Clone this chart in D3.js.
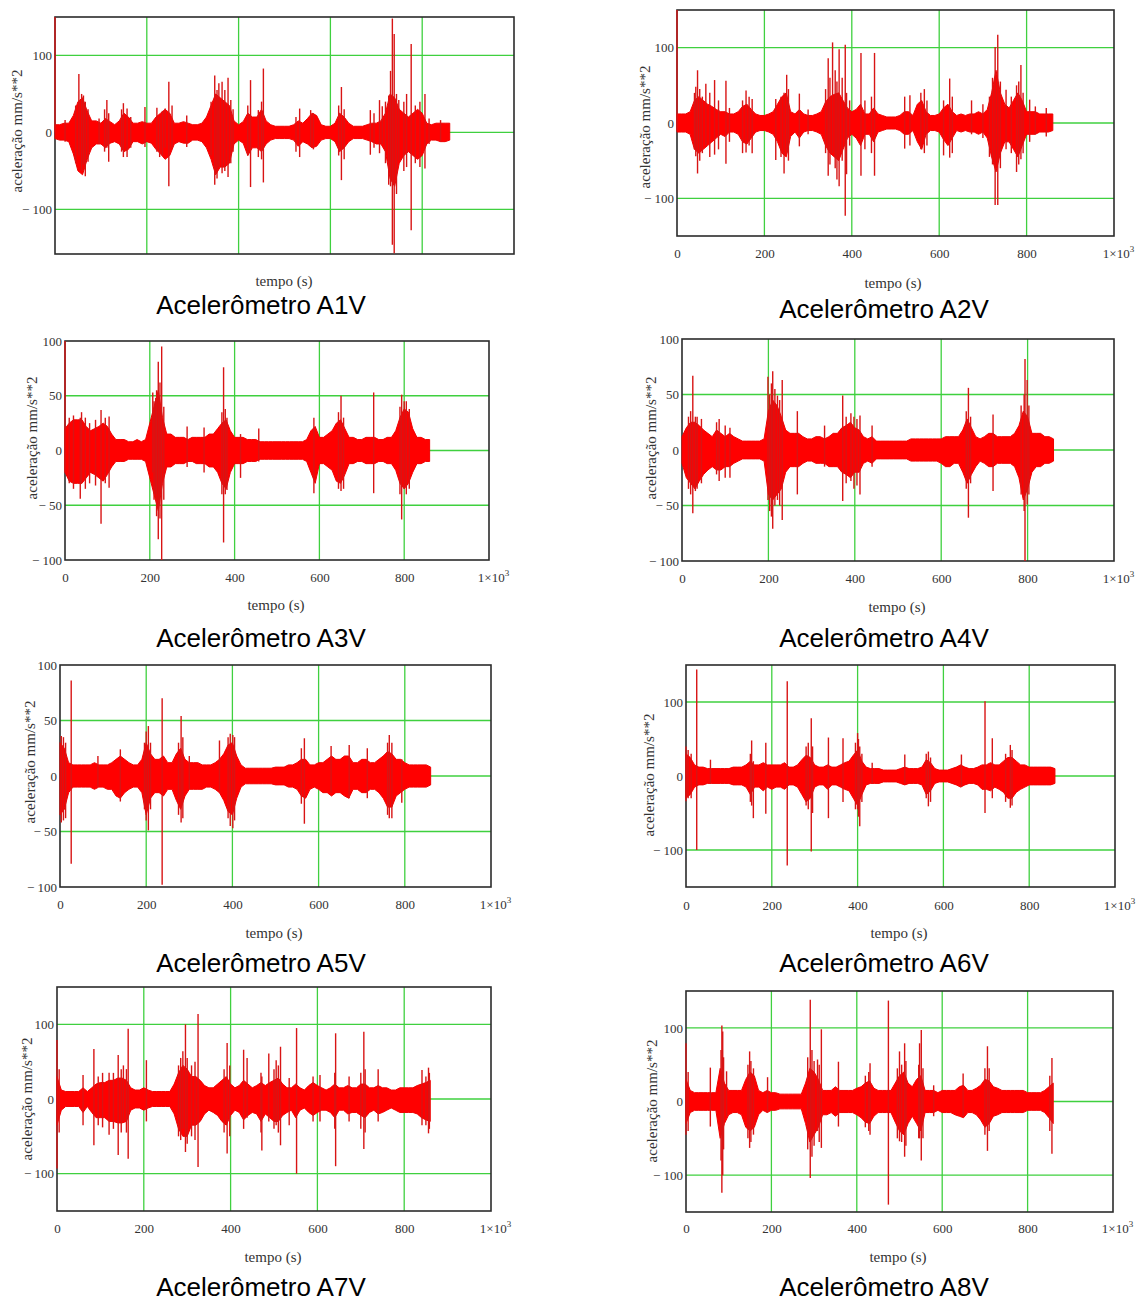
<!DOCTYPE html>
<html>
<head>
<meta charset="utf-8">
<script src="https://cdn.jsdelivr.net/npm/d3@7"></script>
<style>
  body { margin: 0; background: #fff; }
  .tick text { font-family: "Liberation Serif", "Times New Roman", serif; font-size: 13px; fill: #333; }
</style>
</head>
<body>
<script>
// sample times of the envelopes (s)
var tempo = d3.range(0, 870, 10);

// envelope of the dense signal, upper / lower (mm/s**2), read every 10 s
var a1Sup = [10,10,12,12,22,40,45,28,15,15, 12,18,14,10,15,25,20,12,12,14, 12,12,20,25,30,25,12,12,14,12, 10,10,12,20,35,50,45,40,35,15, 10,14,25,20,20,30,15,10,8,8, 8,8,10,15,12,18,25,22,10,8, 8,12,25,20,12,8,8,8,10,12, 12,15,25,50,45,30,25,20,25,30, 25,12,10,12,12,12,12];
var a1Inf = [-8,-10,-10,-12,-28,-50,-55,-35,-20,-15, -15,-20,-14,-12,-15,-25,-22,-12,-12,-15, -12,-14,-22,-28,-35,-30,-15,-12,-14,-14, -10,-10,-12,-20,-35,-55,-45,-45,-40,-15, -10,-14,-30,-20,-20,-25,-15,-10,-8,-8, -8,-8,-10,-18,-12,-15,-20,-18,-10,-8, -8,-12,-25,-20,-12,-8,-8,-8,-10,-12, -15,-15,-25,-60,-70,-40,-30,-25,-30,-35, -30,-15,-10,-10,-12,-12,-10];
// isolated peaks [t, max, min]
var a1Picos = [[0,150,0],[52,76,-30],[66,40,-57],[113,42,-20],[117,25,-38],[149,38,-32],[157,31,-32],[196,33,-19],[240,31,-20],[248,66,-70],[287,22,-19],[348,74,-68],[357,64,-45],[364,66,-53],[377,71,-58],[383,42,-40],[426,68,-71],[443,29,-32],[454,83,-65],[533,31,-32],[557,29,-19],[624,59,-62],[687,29,-29],[707,42,-27],[713,34,-15],[727,48,-68],[735,148,-146],[739,128,-157],[749,42,-36],[766,50,-45],[776,115,-127],[806,50,-47],
  [22,16,-12],[45,35,-40],[58,50,-50],[62,48,-42],[72,30,-38],[96,18,-15],[108,30,-25],[145,30,-25],[165,20,-20],[222,32,-25],[228,20,-32],[234,28,-30],[255,35,-20],[340,40,-30],[353,55,-60],[370,55,-50],[388,30,-25],[420,35,-30],[450,40,-35],[525,20,-25],[563,25,-22],[618,35,-30],[630,30,-35],[695,25,-20],[720,40,-40],[731,80,-70],[744,50,-80],[760,40,-50],[785,35,-40],[795,40,-45],[815,18,-15],[840,16,-12]];

var a2Sup = [12,12,12,15,30,35,30,25,22,18, 15,15,12,12,15,22,25,18,12,10, 10,12,15,25,35,40,15,12,18,12, 10,10,12,15,28,35,38,40,30,20, 15,18,25,12,12,20,12,10,8,8, 8,10,15,15,10,25,30,15,10,10, 12,20,25,15,10,12,10,12,12,15, 12,18,40,70,40,25,20,30,40,30, 15,15,15,12,12,12,12];
var a2Inf = [-12,-12,-12,-15,-35,-40,-35,-30,-25,-20, -15,-18,-12,-12,-15,-25,-28,-20,-12,-10, -10,-12,-15,-25,-40,-45,-18,-12,-20,-12, -10,-10,-12,-15,-30,-40,-45,-50,-35,-20, -15,-20,-30,-15,-15,-25,-12,-10,-8,-8, -8,-10,-15,-15,-10,-25,-35,-15,-10,-10, -12,-22,-30,-20,-10,-12,-10,-12,-12,-15, -12,-20,-45,-65,-40,-25,-25,-35,-45,-30, -15,-15,-15,-12,-12,-12,-10];
var a2Picos = [[0,150,-10],[43,48,-44],[47,70,-67],[66,52,-30],[86,57,-42],[112,56,-54],[158,43,-39],[172,32,-40],[226,32,-49],[245,40,-67],[251,64,-40],[280,39,-31],[346,86,-70],[356,107,-40],[371,98,-84],[385,104,-123],[388,40,-68],[421,93,-70],[452,93,-70],[521,35,-34],[533,37,-30],[566,45,-40],[610,30,-43],[624,59,-46],[674,30,-15],[728,101,-109],[734,117,-109],[753,44,-35],[777,50,-65],[787,77,-48],[807,31,-25],[820,22,-15],
  [40,40,-35],[52,45,-50],[58,35,-40],[75,40,-45],[95,30,-35],[120,20,-25],[150,30,-40],[165,35,-30],[238,35,-45],[255,45,-50],[300,18,-15],[340,45,-40],[350,60,-55],[362,70,-60],[366,55,-75],[378,60,-50],[395,30,-30],[430,30,-35],[445,35,-40],[558,40,-35],[572,30,-30],[630,35,-40],[700,25,-20],[715,35,-45],[722,60,-55],[740,55,-60],[765,35,-40],[782,55,-55],[792,40,-40],[845,20,-18]];

var a3Sup = [20,25,28,28,28,22,18,20,22,25, 22,15,10,10,10,8,8,10,8,10, 25,40,55,30,15,15,12,12,12,10, 12,12,12,12,15,15,20,25,28,18, 12,12,12,10,10,10,8,8,8,8, 8,8,8,8,8,8,8,10,18,22, 12,12,15,18,25,28,20,12,12,10, 10,12,12,12,10,10,12,12,18,30, 38,35,20,12,12,10,10];
var a3Inf = [-20,-28,-30,-30,-30,-25,-20,-22,-25,-28, -22,-15,-10,-10,-10,-8,-8,-8,-8,-10, -25,-40,-55,-30,-15,-15,-12,-12,-12,-10, -10,-12,-12,-12,-15,-15,-20,-30,-35,-20, -12,-12,-12,-10,-10,-10,-8,-8,-8,-8, -8,-8,-8,-8,-8,-8,-8,-10,-20,-30, -12,-12,-15,-18,-28,-30,-22,-12,-12,-10, -10,-12,-12,-12,-10,-10,-12,-12,-18,-30, -35,-30,-20,-12,-12,-10,-10];
var a3Picos = [[0,100,-20],[36,30,-44],[39,35,-30],[85,37,-67],[104,31,-34],[207,53,-20],[214,48,-40],[220,81,-81],[228,95,-100],[288,22,-15],[328,21,-20],[374,76,-84],[382,30,-36],[414,15,-25],[457,20,-10],[587,30,-39],[651,50,-37],[728,53,-39],[794,51,-63],[800,45,-35],
  [10,30,-30],[20,32,-35],[48,30,-35],[58,25,-30],[72,28,-32],[95,30,-30],[210,45,-45],[216,55,-60],[224,62,-62],[233,40,-45],[370,35,-40],[378,38,-40],[645,35,-35],[657,30,-35],[790,40,-40],[805,45,-40],[812,38,-35]];

var a4Sup = [12,20,25,25,22,18,15,12,18,15, 12,15,12,10,8,8,8,8,8,10, 35,45,40,30,18,15,15,15,12,10, 10,12,12,10,12,15,15,20,22,25, 20,18,12,10,12,8,8,8,8,8, 8,8,8,10,10,10,10,10,10,10, 10,12,12,12,12,18,28,20,12,10, 12,15,15,12,12,12,12,15,22,35, 30,15,15,15,12,12,10];
var a4Inf = [-12,-25,-30,-35,-28,-22,-18,-15,-18,-18, -15,-15,-12,-10,-8,-8,-8,-8,-8,-10, -40,-45,-40,-35,-20,-15,-15,-15,-12,-10, -10,-12,-12,-12,-15,-15,-15,-20,-22,-25, -20,-20,-12,-10,-12,-8,-8,-8,-8,-8, -8,-8,-8,-10,-10,-10,-10,-10,-10,-10, -12,-15,-15,-12,-12,-20,-30,-22,-15,-10, -12,-15,-15,-12,-12,-12,-12,-15,-25,-45, -35,-20,-15,-15,-12,-12,-10];
var a4Picos = [[25,67,-57],[31,30,-37],[86,28,-28],[111,20,-25],[199,66,-45],[210,71,-71],[221,49,-45],[232,63,-63],[267,35,-40],[330,22,-15],[372,49,-46],[391,33,-28],[412,31,-40],[440,22,-15],[663,56,-61],[720,32,-37],[792,50,-55],[794,82,-100],[799,63,-49],
  [15,30,-35],[20,35,-40],[35,30,-35],[45,28,-30],[80,25,-22],[100,22,-25],[203,50,-55],[207,60,-60],[215,55,-50],[226,45,-50],[380,30,-30],[398,30,-35],[405,28,-32],[658,35,-35],[668,30,-30],[785,40,-40],[803,40,-40]];

var a5Sup = [30,25,12,10,10,10,10,10,12,10, 10,10,12,15,18,15,12,10,10,15, 30,20,15,15,18,12,12,20,25,15, 12,12,12,10,10,10,12,15,20,28, 30,18,10,7,7,7,7,7,7,7, 8,8,8,10,10,12,15,15,10,10, 12,12,15,18,15,15,18,18,12,12, 15,15,12,12,15,18,22,20,15,15, 12,10,10,10,10,10,8];
var a5Inf = [-35,-30,-15,-10,-10,-10,-10,-10,-12,-10, -10,-12,-12,-18,-20,-15,-12,-10,-10,-15, -35,-20,-15,-15,-18,-12,-12,-22,-30,-18, -12,-12,-12,-12,-10,-10,-12,-15,-22,-32, -35,-20,-10,-7,-7,-7,-7,-7,-7,-7, -8,-8,-8,-10,-10,-12,-18,-20,-12,-10, -12,-15,-15,-18,-15,-15,-18,-20,-12,-12, -15,-15,-12,-12,-15,-20,-28,-28,-18,-15, -12,-10,-10,-10,-10,-10,-8];
var a5Picos = [[3,36,-42],[26,86,-79],[88,18,-10],[140,24,-23],[205,45,-49],[237,70,-98],[281,54,-42],[300,18,-12],[370,32,-15],[401,37,-47],[567,34,-43],[629,27,-15],[671,28,-20],[713,25,-20],[764,37,-38],[793,15,-24],
  [8,35,-40],[13,30,-38],[196,30,-30],[200,40,-40],[210,30,-30],[275,30,-35],[285,35,-38],[390,35,-38],[395,38,-45],[405,35,-40],[560,25,-25],[760,30,-35],[770,30,-38]];

var a6Sup = [30,25,15,12,12,10,10,10,10,10, 10,12,12,12,15,20,15,15,18,15, 15,15,15,18,12,12,15,22,28,25, 15,12,12,15,12,12,15,18,20,28, 35,20,12,10,10,10,8,8,8,8, 10,12,10,10,10,12,22,18,10,8, 8,8,10,12,15,12,10,10,12,15, 15,18,15,15,20,25,25,20,15,15, 12,12,12,12,12,12,10];
var a6Inf = [-30,-25,-15,-12,-12,-10,-10,-10,-10,-10, -10,-12,-12,-12,-15,-25,-15,-15,-20,-15, -18,-15,-15,-18,-12,-12,-15,-25,-35,-30, -15,-12,-12,-18,-12,-12,-15,-18,-20,-30, -40,-25,-12,-10,-10,-10,-8,-8,-8,-8, -10,-12,-10,-10,-10,-12,-25,-20,-10,-8, -8,-8,-10,-12,-15,-12,-10,-10,-12,-18, -18,-20,-15,-18,-22,-30,-30,-22,-18,-15, -12,-12,-12,-12,-12,-12,-10];
var a6Picos = [[0,40,-34],[25,144,-100],[57,22,-10],[153,48,-40],[157,20,-57],[186,45,-51],[236,128,-121],[292,78,-102],[332,52,-57],[366,51,-35],[400,58,-45],[405,40,-68],[434,18,-10],[510,29,-10],[565,33,-41],[642,29,-15],[697,101,-50],[714,51,-30],[756,42,-43],
  [5,35,-30],[12,30,-30],[150,30,-35],[280,40,-40],[285,45,-45],[295,40,-50],[395,45,-45],[402,50,-55],[410,30,-35],[560,30,-30],[570,25,-35],[745,30,-35],[760,35,-40]];

var a7Sup = [30,12,10,10,10,10,15,10,15,20, 22,22,25,25,28,28,25,15,12,12, 15,12,10,10,10,10,10,20,35,45, 40,30,30,25,18,15,15,20,25,30, 20,15,18,25,20,15,18,22,18,22, 25,28,20,15,15,20,15,12,18,22, 18,15,12,15,20,15,15,18,15,15, 20,20,15,15,18,15,15,12,12,15, 15,15,15,18,20,22,25];
var a7Inf = [-35,-15,-10,-10,-10,-10,-18,-10,-18,-25, -25,-25,-30,-30,-32,-32,-30,-15,-12,-12, -15,-12,-10,-10,-10,-10,-10,-20,-40,-50, -50,-35,-35,-30,-20,-15,-18,-22,-30,-35, -22,-15,-18,-28,-22,-18,-20,-30,-20,-25, -30,-30,-22,-18,-15,-25,-15,-12,-18,-22, -18,-15,-15,-18,-25,-15,-15,-20,-18,-18, -22,-25,-18,-15,-20,-18,-15,-12,-15,-18, -18,-18,-18,-20,-25,-28,-30];
var a7Picos = [[0,79,-93],[60,32,-35],[85,67,-62],[120,35,-48],[141,59,-75],[153,45,-30],[164,94,-80],[206,52,-30],[290,64,-40],[296,100,-71],[325,114,-91],[392,75,-73],[430,66,-40],[438,55,-25],[472,30,-69],[488,61,-30],[505,52,-35],[515,70,-62],[535,28,-35],[552,95,-100],[606,32,-30],[642,88,-90],[673,30,-30],[707,90,-67],[740,40,-30],[841,39,-35],[856,42,-46],
  [5,40,-45],[95,30,-35],[105,35,-38],[130,35,-40],[148,40,-45],[160,40,-45],[280,45,-50],[285,55,-55],[300,55,-60],[310,45,-50],[318,50,-55],[385,40,-45],[398,45,-50],[470,35,-45],[500,40,-40],[510,45,-45],[590,30,-30],[640,35,-40],[700,35,-40],[710,40,-45],[850,30,-35],[858,35,-40]];

var a8Sup = [30,15,12,12,12,12,12,12,45,25, 15,15,15,15,30,40,35,15,12,15, 12,12,10,10,10,10,10,10,25,45, 40,30,15,15,15,20,15,15,15,15, 18,20,25,28,18,15,15,15,15,25, 35,40,25,20,30,35,15,15,15,12, 15,15,15,15,20,22,15,15,18,22, 30,28,20,18,15,15,15,15,15,15, 12,12,12,12,15,20,25];
var a8Inf = [-30,-15,-12,-12,-12,-12,-12,-12,-50,-30, -18,-15,-15,-18,-35,-40,-35,-18,-12,-15, -12,-12,-10,-10,-10,-10,-10,-10,-30,-55, -45,-35,-18,-18,-15,-20,-15,-15,-15,-15, -18,-22,-28,-30,-20,-15,-15,-15,-15,-28, -40,-45,-30,-20,-30,-40,-15,-15,-15,-12, -15,-15,-15,-18,-20,-22,-15,-15,-18,-25, -35,-30,-20,-18,-15,-15,-15,-15,-15,-15, -12,-12,-12,-12,-15,-22,-30];
var a8Picos = [[0,79,-45],[57,46,-34],[84,103,-124],[86,95,-100],[95,41,-20],[149,68,-63],[191,33,-15],[291,138,-104],[308,57,-40],[317,98,-63],[357,54,-34],[431,52,-45],[474,137,-140],[500,68,-54],[512,79,-75],[547,79,-50],[551,97,-80],[580,22,-20],[649,38,-20],[706,75,-67],[857,59,-71],
  [5,40,-40],[82,70,-80],[88,60,-65],[145,50,-50],[152,55,-55],[158,45,-45],[285,60,-65],[295,70,-75],[300,55,-60],[312,50,-55],[420,35,-35],[428,40,-40],[495,45,-50],[505,50,-55],[515,55,-60],[545,50,-50],[555,45,-50],[700,45,-45],[710,45,-40],[852,35,-40]];

var xTicks = [0, 200, 400, 600, 800, 1000];
var yTicks150 = [-100, 0, 100];
var yTicks100 = [-100, -50, 0, 50, 100];

// panel layout
var paineis = [
  {nome: "A1V", sup: a1Sup, inf: a1Inf, picos: a1Picos, yDom: [-158, 150], yTicks: yTicks150, l: 55, r: 514, t: 17, b: 254, xTickY: null, yLabX: 17, yLabY: 131, tempoX: 284, tempoY: 286, titX: 261, titY: 314},
  {nome: "A2V", sup: a2Sup, inf: a2Inf, picos: a2Picos, yDom: [-150, 150], yTicks: yTicks150, l: 677, r: 1114, t: 10, b: 236, xTickY: 258, yLabX: 645, yLabY: 127, tempoX: 893, tempoY: 288, titX: 884, titY: 318},
  {nome: "A3V", sup: a3Sup, inf: a3Inf, picos: a3Picos, yDom: [-100, 100], yTicks: yTicks100, l: 65, r: 489, t: 341, b: 560, xTickY: 582, yLabX: 32, yLabY: 438, tempoX: 276, tempoY: 610, titX: 261, titY: 647},
  {nome: "A4V", sup: a4Sup, inf: a4Inf, picos: a4Picos, yDom: [-100, 100], yTicks: yTicks100, l: 682, r: 1114, t: 339, b: 561, xTickY: 583, yLabX: 651, yLabY: 438, tempoX: 897, tempoY: 612, titX: 884, titY: 647},
  {nome: "A5V", sup: a5Sup, inf: a5Inf, picos: a5Picos, yDom: [-100, 100], yTicks: yTicks100, l: 60, r: 491, t: 665, b: 887, xTickY: 909, yLabX: 30, yLabY: 762, tempoX: 274, tempoY: 938, titX: 261, titY: 972},
  {nome: "A6V", sup: a6Sup, inf: a6Inf, picos: a6Picos, yDom: [-150, 150], yTicks: yTicks150, l: 686, r: 1115, t: 665, b: 887, xTickY: 910, yLabX: 649, yLabY: 775, tempoX: 899, tempoY: 938, titX: 884, titY: 972},
  {nome: "A7V", sup: a7Sup, inf: a7Inf, picos: a7Picos, yDom: [-150, 150], yTicks: yTicks150, l: 57, r: 491, t: 987, b: 1211, xTickY: 1233, yLabX: 27, yLabY: 1099, tempoX: 273, tempoY: 1262, titX: 261, titY: 1296},
  {nome: "A8V", sup: a8Sup, inf: a8Inf, picos: a8Picos, yDom: [-150, 150], yTicks: yTicks150, l: 686, r: 1113, t: 991, b: 1212, xTickY: 1233, yLabX: 652, yLabY: 1101, tempoX: 898, tempoY: 1262, titX: 884, titY: 1296}
];

var svg = d3.select("body").append("svg")
  .attr("width", 1140)
  .attr("height", 1302)
  .style("display", "block");

svg.append("rect").attr("width", 1140).attr("height", 1302).attr("fill", "#fff");

var serif = "'Liberation Serif', 'Times New Roman', serif";

paineis.forEach(function(p, k) {
  var x = d3.scaleLinear().domain([0, 1000]).range([p.l, p.r]);
  var y = d3.scaleLinear().domain(p.yDom).range([p.b, p.t]);
  var g = svg.append("g");

  // green grid
  g.selectAll(".gx")
    .data([200, 400, 600, 800])
    .enter().append("line")
    .attr("x1", d => x(d)).attr("x2", d => x(d))
    .attr("y1", p.t).attr("y2", p.b)
    .attr("stroke", "#3fd03f").attr("stroke-width", 1.3);

  g.selectAll(".gy")
    .data(p.yTicks.filter(d => d > p.yDom[0] && d < p.yDom[1]))
    .enter().append("line")
    .attr("x1", p.l).attr("x2", p.r)
    .attr("y1", d => y(d)).attr("y2", d => y(d))
    .attr("stroke", "#3fd03f").attr("stroke-width", 1.3);

  // frame
  g.append("rect")
    .attr("x", p.l).attr("y", p.t)
    .attr("width", p.r - p.l).attr("height", p.b - p.t)
    .attr("fill", "none")
    .attr("stroke", "#2b2b2b").attr("stroke-width", 1.6);

  // clip for the signal
  svg.append("clipPath").attr("id", "clip" + k)
    .append("rect")
    .attr("x", p.l - 1).attr("y", p.t)
    .attr("width", p.r - p.l + 1).attr("height", p.b - p.t);

  var sinal = g.append("g").attr("clip-path", "url(#clip" + k + ")");

  var area = d3.area()
    .x((d, i) => x(tempo[i]))
    .y0((d, i) => y(p.inf[i]))
    .y1(d => y(d));

  sinal.append("path")
    .datum(p.sup)
    .attr("d", area)
    .attr("fill", "#ff0000")
    .attr("stroke", "#f00000")
    .attr("stroke-width", 1);

  sinal.selectAll(".pico")
    .data(p.picos)
    .enter().append("line")
    .attr("x1", d => x(d[0])).attr("x2", d => x(d[0]))
    .attr("y1", d => y(d[1])).attr("y2", d => y(d[2]))
    .attr("stroke", "#d81414")
    .attr("stroke-width", 1.4);

  // y axis labels
  var yAxis = d3.axisLeft(y)
    .tickValues(p.yTicks)
    .tickSize(0)
    .tickPadding(3)
    .tickFormat(d => d < 0 ? "\u2212 " + (-d) : d);

  g.append("g")
    .attr("transform", `translate(${p.l}, 0)`)
    .call(yAxis)
    .call(a => a.select(".domain").remove());

  // x axis labels
  if (p.xTickY !== null) {
    var xAxis = d3.axisBottom(x)
      .tickValues(xTicks)
      .tickSize(0)
      .tickPadding(0)
      .tickFormat(d => d === 1000 ? "" : d);

    var ax = g.append("g")
      .attr("transform", `translate(0, ${p.xTickY})`)
      .call(xAxis)
      .call(a => a.select(".domain").remove());

    ax.selectAll("text").attr("y", 0).attr("dy", 0);

    var mil = ax.selectAll(".tick").filter(d => d === 1000).select("text")
      .attr("dx", 4);
    mil.append("tspan").text("1\u00d710");
    mil.append("tspan").attr("dy", -6).style("font-size", "9px").text("3");
  }

  // axis titles
  g.append("text")
    .attr("transform", `translate(${p.yLabX}, ${p.yLabY}) rotate(-90)`)
    .attr("text-anchor", "middle")
    .attr("dominant-baseline", "central")
    .style("font-family", serif)
    .style("font-size", "15px")
    .attr("fill", "#333")
    .text("aceleração mm/s**2");

  g.append("text")
    .attr("x", p.tempoX).attr("y", p.tempoY)
    .attr("text-anchor", "middle")
    .style("font-family", serif)
    .style("font-size", "15px")
    .attr("fill", "#333")
    .text("tempo (s)");

  g.append("text")
    .attr("x", p.titX).attr("y", p.titY)
    .attr("text-anchor", "middle")
    .style("font-family", "'Liberation Sans', Arial, sans-serif")
    .style("font-size", "26px")
    .attr("fill", "#000")
    .text("Acelerômetro " + p.nome);
});
</script>
</body>
</html>
